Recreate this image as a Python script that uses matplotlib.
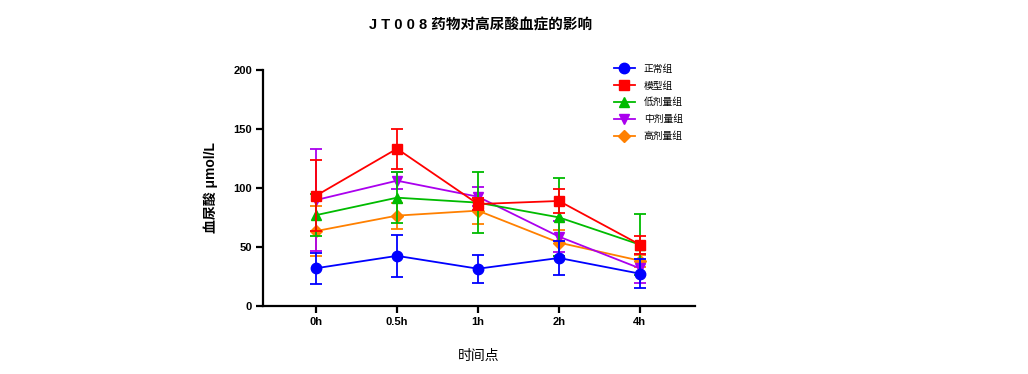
import numpy as np
import matplotlib
matplotlib.use("Agg")
import matplotlib.pyplot as plt
from matplotlib.lines import Line2D

plt.rcParams["font.family"] = ["Liberation Sans", "Noto Sans CJK SC", "DejaVu Sans"]

# data
time_points = ["0h", "0.5h", "1h", "2h", "4h"]
groups = ["正常组", "模型组", "低剂量组", "中剂量组", "高剂量组"]

normal_mean = [32, 42.5, 31.6, 40.7, 27.4]
normal_err = [13, 18, 12, 14.5, 12.5]
model_mean = [93.5, 133.3, 86.4, 89, 52]
model_err = [30, 17, 5, 10, 7.6]
low_mean = [77, 91.8, 87.6, 75.1, 52]
low_err = [18, 21.5, 26, 33, 26]
mid_mean = [89.8, 106.2, 92.6, 58.8, 31.9]
mid_err = [43, 7, 8, 13, 12]
high_mean = [63.5, 76.6, 80.8, 53.7, 38.4]
high_err = [21, 11, 11, 11, 5]

colors = ["#0000ff", "#ff0000", "#00bb00", "#aa00ee", "#ff8000"]
markers = ["o", "s", "^", "v", "D"]
sizes = [7.5, 7.5, 7.5, 7.5, 6]

means = [normal_mean, model_mean, low_mean, mid_mean, high_mean]
errs = [normal_err, model_err, low_err, mid_err, high_err]

fig = plt.figure(figsize=(10.28, 3.74), dpi=100)
ax = fig.add_axes([263 / 1028, 68 / 374, 432 / 1028, 236 / 374])

x = np.arange(len(time_points))
draw_order = [4, 2, 3, 1, 0]
for i in draw_order:
    ax.errorbar(x, means[i], yerr=errs[i], color=colors[i], marker=markers[i],
                markersize=sizes[i], linewidth=1.3, elinewidth=1.3, capsize=4.5,
                capthick=1.3, zorder=3 + (5 - i))

ax.set_xlim(-0.655, 4.68)
ax.set_ylim(0, 200)
ax.set_yticks([0, 50, 100, 150, 200])
ax.set_xticks(x)
ax.set_xticklabels(time_points, fontweight="bold", fontsize=8)
for lab in ax.get_yticklabels():
    lab.set_fontweight("bold")
    lab.set_fontsize(8)

for s in ["top", "right"]:
    ax.spines[s].set_visible(False)
for s in ["left", "bottom"]:
    ax.spines[s].set_linewidth(1.6)
ax.tick_params(axis="both", width=1.6, length=5, pad=3)

ax.set_ylabel("血尿酸 μmol/L", fontweight="bold", fontsize=10, labelpad=11)
ax.set_xlabel("时间点", fontsize=10, labelpad=16)

fig.text(0.467, 0.932, "J T 0 0 8 药物对高尿酸血症的影响", ha="center", va="center",
         fontsize=10.5, fontweight="bold")

handles = [Line2D([], [], color=colors[i], marker=markers[i], markersize=sizes[i],
                  linewidth=1.3) for i in range(5)]
ax.legend(handles=handles, labels=groups, loc="upper left",
          bbox_to_anchor=(605 / 1028, 319 / 374), bbox_transform=fig.transFigure,
          frameon=False, fontsize=7, handlelength=2.2, labelspacing=0.7,
          handletextpad=0.9)

fig.savefig("out.png", dpi=100)
